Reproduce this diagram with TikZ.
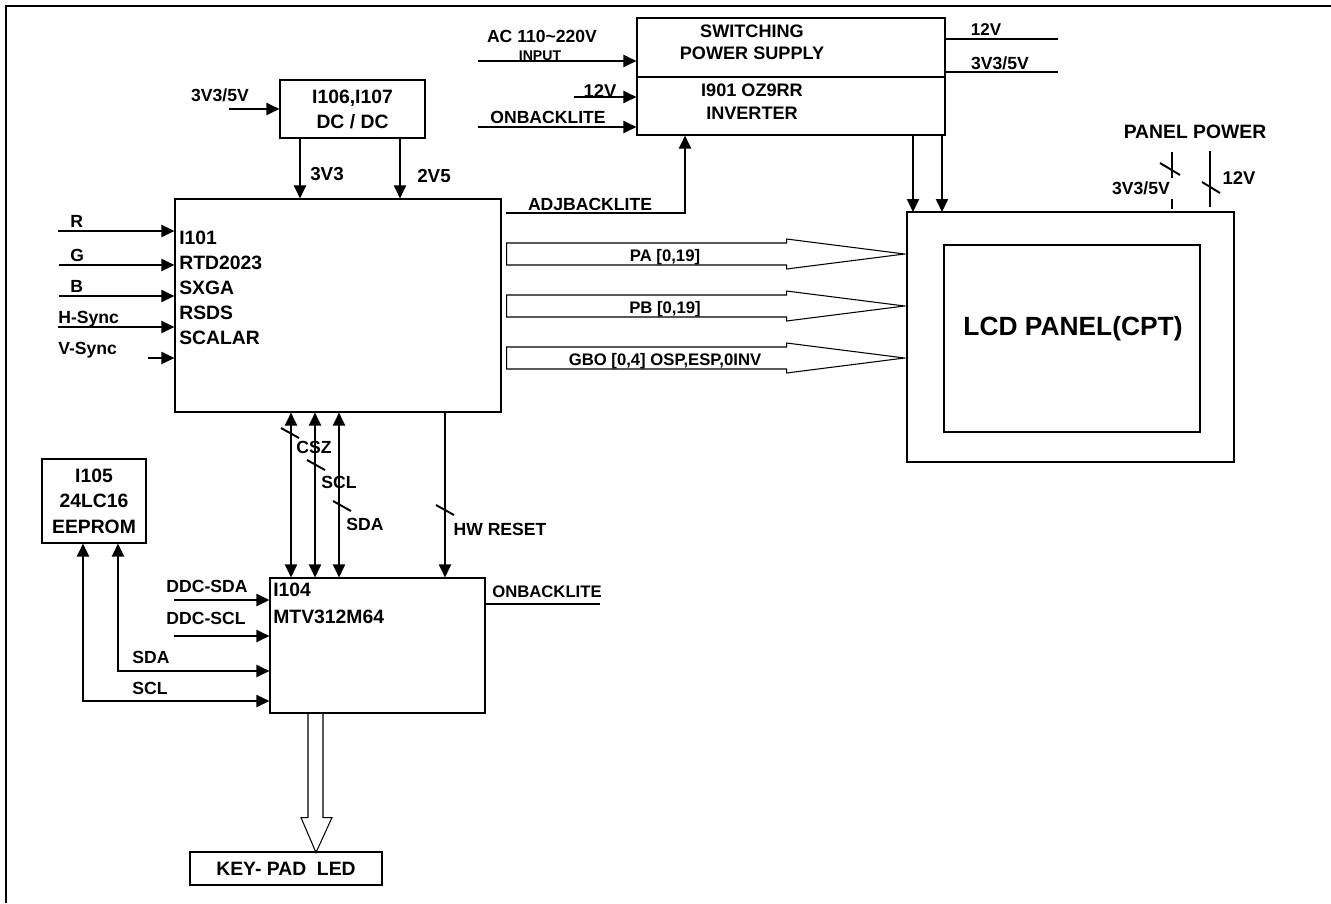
\documentclass[tikz,border=0pt]{standalone}
\usepackage{fontspec}
\setmainfont{Liberation Sans}
\usetikzlibrary{arrows.meta}

\newcommand{\chipfont}{\bfseries\fontsize{11}{14.2}\selectfont}
\newcommand{\lblfont}{\bfseries\fontsize{10}{12}\selectfont}
\newcommand{\busfont}{\bfseries\fontsize{9.5}{11}\selectfont}

\begin{document}
\begin{tikzpicture}[
    x=0.2mm, y=-0.2mm,
    >={Triangle[length=2.6mm, width=2.4mm]},
    box/.style={rectangle, draw, line width=0.6pt, inner sep=0pt, align=center, font=\chipfont},
    arrow/.style={->, line width=1.1pt},
    biarrow/.style={<->, line width=1.1pt},
    wire/.style={line width=1.1pt},
    bus/.style={draw, line width=0.6pt},
    cutmark/.style={line width=1.1pt},
    lbl/.style={font=\lblfont, inner sep=0pt, anchor=base}
]
\useasboundingbox (0,0) rectangle (1331,903);

% page frame
\draw[line width=1.6pt] (6,903) -- (6,6) -- (1331,6);

% blocks
\node[box, minimum width=61.6mm, minimum height=11.8mm] (psu) at (791,47.5) {};
\node[box, minimum width=61.6mm, minimum height=11.6mm] (inv) at (791,106) {};
\node[font=\bfseries\fontsize{10.3}{12.5}\selectfont, align=center] (psutxt) at (752,42) {SWITCHING\\POWER SUPPLY};
\node[font=\bfseries\fontsize{10.3}{13}\selectfont, align=center] (invtxt) at (752,101.5) {I901 OZ9RR\\INVERTER};

\node[box, minimum width=29mm, minimum height=11.6mm] (dcdc) at (352.5,109) {I106,I107\\DC / DC};

\node[box, minimum width=65.2mm, minimum height=42.6mm] (scaler) at (338,305.5) {};
\node[font=\chipfont, align=left, anchor=north west, inner sep=0pt] (scalertxt) at (179,231) {I101\\RTD2023\\SXGA\\RSDS\\SCALAR};

\node[box, minimum width=43mm, minimum height=27mm] (mcu) at (377.5,645.5) {};
\node[font=\bfseries\fontsize{11}{15.3}\selectfont, align=left, anchor=north west, inner sep=0pt] (mcutxt) at (273,583) {I104\\MTV312M64};

\node[box, minimum width=20.8mm, minimum height=16.8mm, font=\bfseries\fontsize{11}{14.5}\selectfont] (eeprom) at (94,501) {I105\\24LC16\\EEPROM};

\node[box, minimum width=38.4mm, minimum height=6.6mm] (keypad) at (286,868.5) {KEY- PAD\ \ LED};

\node[box, minimum width=65.4mm, minimum height=50mm] (lcd) at (1070.5,337) {};
\node[box, minimum width=51.2mm, minimum height=37.4mm] (screen) at (1072,338.5) {};
\node[font=\bfseries\fontsize{15}{18}\selectfont] (lcdtxt) at (1073,329) {LCD PANEL(CPT)};

% power supply / inverter
\coordinate (acin) at (478,61);
\coordinate (v12in) at (574,97);
\coordinate (onin) at (478,127);
\draw[arrow] (acin) -- (acin -| psu.west);
\draw[arrow] (v12in) -- (v12in -| inv.west);
\draw[arrow] (onin) -- (onin -| inv.west);
\node[lbl] (aclbl) at (542,42) {AC 110\textasciitilde220V};
\node[lbl, font=\bfseries\fontsize{8}{10}\selectfont] (inputlbl) at (540,60) {INPUT};
\node[lbl, font=\bfseries\fontsize{10.5}{12}\selectfont] (v12lbl) at (600,97) {12V};
\node[lbl] (onlbl) at (548,123) {ONBACKLITE};

\coordinate (out12) at (1058,39);
\coordinate (out33) at (1058,72);
\draw[wire] (out12 -| psu.east) -- (out12);
\draw[wire] (out33 -| psu.east) -- (out33);
\node[lbl, font=\bfseries\fontsize{9.7}{12}\selectfont] (out12lbl) at (986,35) {12V};
\node[lbl] (out33lbl) at (1000,69) {3V3/5V};

\coordinate (adj) at (685,213);
\draw[arrow] (scaler.east |- adj) ++(4,0) -- (adj) -- (adj |- inv.south);
\node[lbl] (adjlbl) at (590,210) {ADJBACKLITE};

\coordinate (lamp1) at (913,212);
\coordinate (lamp2) at (942,212);
\draw[arrow] (lamp1 |- inv.south) -- (lamp1);
\draw[arrow] (lamp2 |- inv.south) -- (lamp2);

% panel power
\node[lbl, font=\chipfont] (pplbl) at (1195,138) {PANEL POWER};
\draw[wire] (1172,152) -- (1172,178) (1172,199) -- (1172,209);
\draw[wire] (1210,151) -- (1210,207);
\draw[cutmark] (1160,163) -- ++(20,12);
\draw[cutmark] (1202,182) -- ++(18,11);
\node[lbl] (pp33lbl) at (1141,194) {3V3/5V};
\node[lbl, font=\bfseries\fontsize{10.5}{12}\selectfont] (pp12lbl) at (1239,184) {12V};

% dc/dc
\coordinate (dcin) at (229,109);
\draw[arrow] (dcin) -- (dcdc.west);
\node[lbl] (dcinlbl) at (220,101) {3V3/5V};
\draw[arrow] (300,0 |- dcdc.south) -- (300,0 |- scaler.north);
\draw[arrow] (400,0 |- dcdc.south) -- (400,0 |- scaler.north);
\node[lbl, font=\bfseries\fontsize{10.7}{12}\selectfont] (v33lbl) at (327,180) {3V3};
\node[lbl, font=\bfseries\fontsize{10.7}{12}\selectfont] (v25lbl) at (434,182) {2V5};

% video inputs
\foreach \y/\x/\lx/\sig in {231/58/70/R, 265/59/70/G, 296/59/70/B, 327/58/58/H-Sync, 358/148/58/V-Sync} {
  \coordinate (in\sig) at (\x,\y);
  \draw[arrow] (in\sig) -- (in\sig -| scaler.west);
  \node[lbl, anchor=base west] (lbl\sig) at (\lx,\y-4) {\sig};
}

% panel buses
\foreach \y/\txt in {254/{PA [0,19]}, 306/{PB [0,19]}, 358/{GBO [0,4] OSP,ESP,0INV}} {
  \draw[bus] (scaler.east |- 0,\y) ++(5,-11) -- ++(280,0) -- ++(0,-4) -- ++(118,15)
    -- ++(-118,15) -- ++(0,-4) -- ++(-280,0) -- cycle;
  \node[lbl, font=\busfont] (bus\y) at (665,\y+7) {\txt};
}

% scaler <-> mcu
\foreach \x in {291,315,339}
  \draw[biarrow] (\x,0 |- scaler.south) -- (\x,0 |- mcu.north);
\draw[arrow] (445,0 |- scaler.south) -- (445,0 |- mcu.north);
\draw[cutmark] (281,428) -- ++(18,10);
\draw[cutmark] (307,460) -- ++(18,10);
\draw[cutmark] (333,501) -- ++(18,10);
\draw[cutmark] (436,505) -- ++(18,10);
\node[lbl] (cszlbl) at (314,453) {CSZ};
\node[lbl] (scllbl) at (339,488) {SCL};
\node[lbl] (sdalbl) at (365,530) {SDA};
\node[lbl] (rstlbl) at (500,535) {HW RESET};

% mcu
\coordinate (ddcsda) at (174,600);
\coordinate (ddcscl) at (174,636);
\draw[arrow] (ddcsda) -- (ddcsda -| mcu.west);
\draw[arrow] (ddcscl) -- (ddcscl -| mcu.west);
\node[lbl] (ddcsdalbl) at (207,592) {DDC-SDA};
\node[lbl] (ddcscllbl) at (206,624) {DDC-SCL};

\draw[biarrow] (118,0 |- eeprom.south) |- (mcu.west |- 0,671);
\draw[biarrow] (83,0 |- eeprom.south) |- (mcu.west |- 0,701);
\node[lbl] (esdalbl) at (151,663) {SDA};
\node[lbl] (escllbl) at (150,694) {SCL};

\draw[wire] (mcu.east |- 0,604) -- ++(114,0);
\node[lbl, font=\bfseries\fontsize{9.5}{12}\selectfont] (mcuoutlbl) at (547,597) {ONBACKLITE};

\draw[bus] (308,0 |- mcu.south) -- ++(0,104) -- ++(-7,0) -- ++(15,35) -- ++(16,-35) -- ++(-9,0) -- ++(0,-104);

\end{tikzpicture}
\end{document}
